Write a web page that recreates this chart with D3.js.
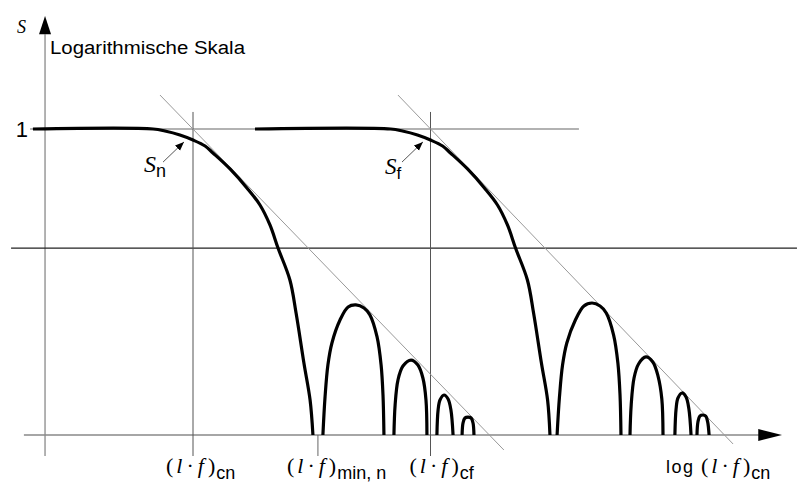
<!DOCTYPE html>
<html>
<head>
<meta charset="utf-8">
<script src="https://cdn.jsdelivr.net/npm/d3@7"></script>
<style>
  body { margin: 0; background: #fff; }
</style>
</head>
<body>
<div id="chart"></div>
<script>
// units: x = decades of log(l·f), 0 at (l·f)cn ; y = decades of log S, 0 at S = 1
var curveN = [[-0.674, 0], [-0.168, 0], [-0.118, -0.02], [-0.055, -0.059], [0, -0.108],
    [0.051, -0.167], [0.084, -0.235], [0.156, -0.392], [0.227, -0.578], [0.282, -0.745],
    [0.324, -0.941], [0.358, -1.167], [0.408, -1.48], [0.434, -1.804], [0.467, -2.294],
    [0.493, -2.657], [0.505, -3]];
var lobesN = [
    [[0.547, -3], [0.556, -2.627], [0.568, -2.314], [0.585, -2.098], [0.619, -1.873], [0.653, -1.745],
     [0.686, -1.725], [0.72, -1.755], [0.745, -1.824], [0.775, -2.039], [0.792, -2.314], [0.8, -2.608], [0.804, -3]],
    [[0.846, -3], [0.851, -2.706], [0.863, -2.461], [0.884, -2.324], [0.918, -2.265], [0.947, -2.314],
     [0.968, -2.441], [0.981, -2.657], [0.985, -3]],
    [[1.027, -3], [1.032, -2.755], [1.04, -2.657], [1.057, -2.608], [1.074, -2.647], [1.086, -2.755], [1.095, -3]],
    [[1.133, -3], [1.137, -2.882], [1.145, -2.833], [1.158, -2.824], [1.171, -2.833], [1.179, -2.882], [1.183, -3]]
];
var curveF = [[0.261, 0], [0.832, 0], [0.882, -0.02], [0.945, -0.059], [1, -0.108],
    [1.051, -0.167], [1.084, -0.235], [1.156, -0.392], [1.227, -0.578], [1.282, -0.745],
    [1.324, -0.941], [1.358, -1.167], [1.408, -1.48], [1.434, -1.804], [1.467, -2.294],
    [1.493, -2.657], [1.503, -3]];
var lobesF = [
    [[1.533, -3], [1.543, -2.627], [1.556, -2.314], [1.574, -2.098], [1.61, -1.873], [1.646, -1.735],
     [1.68, -1.706], [1.714, -1.735], [1.74, -1.804], [1.771, -2.02], [1.789, -2.294], [1.798, -2.608], [1.802, -3]],
    [[1.84, -3], [1.845, -2.706], [1.857, -2.441], [1.876, -2.304], [1.907, -2.235], [1.936, -2.284],
     [1.958, -2.422], [1.974, -2.647], [1.979, -3]],
    [[2.029, -3], [2.034, -2.745], [2.042, -2.637], [2.059, -2.588], [2.076, -2.627], [2.088, -2.745], [2.097, -3]],
    [[2.122, -3], [2.126, -2.872], [2.134, -2.814], [2.147, -2.804], [2.159, -2.814], [2.167, -2.872], [2.173, -3]]
];
var asymptotes = [[[-0.139, 0.333], [1.309, -3.147]], [[0.863, 0.333], [2.274, -3.088]]];
var refX = [0, 1];          // (l·f)cn, (l·f)cf
var minN = 0.526;           // (l·f)min,n
var axisX = -0.623, axisY = -3, midY = -1.167;

var SERIF = "Liberation Serif, DejaVu Serif, serif";
var SANS = "Liberation Sans, Arimo, Arial, Roboto, sans-serif";

var width = 798, height = 484;
var x = d3.scaleLinear().domain([0, 1]).range([193, 430.5]);
var y = d3.scaleLinear().domain([0, -3]).range([129, 435]);

var svg = d3.select("#chart").append("svg")
    .attr("width", width)
    .attr("height", height);

var line = d3.line()
    .x(function(d) { return x(d[0]); })
    .y(function(d) { return y(d[1]); });
var smooth = d3.line()
    .x(function(d) { return x(d[0]); })
    .y(function(d) { return y(d[1]); })
    .curve(d3.curveCatmullRom.alpha(0.5));

function hline(v, u0, u1, color, w) {
    svg.append("path").attr("d", line([[u0, v], [u1, v]]))
        .attr("stroke", color).attr("stroke-width", w).attr("fill", "none");
}
function vline(u, v0, v1, color, w) {
    svg.append("path").attr("d", line([[u, v0], [u, v1]]))
        .attr("stroke", color).attr("stroke-width", w).attr("fill", "none");
}

// axes
vline(axisX, -3.206, 0.93, "#999", 1.5);
hline(axisY, -0.712, 2.4, "#888", 1.5);
svg.append("path")
    .attr("d", "M" + x(axisX) + "," + y(1.108) + "L" + (x(axisX) - 6) + "," + y(0.93) + "L" + (x(axisX) + 6) + "," + y(0.93) + "Z")
    .attr("fill", "#000");
svg.append("path")
    .attr("d", "M" + x(2.48) + "," + y(axisY) + "L" + x(2.38) + "," + (y(axisY) - 6) + "L" + x(2.38) + "," + (y(axisY) + 6) + "Z")
    .attr("fill", "#000");

// reference lines
hline(0, -0.686, 1.625, "#999", 1.3);
hline(midY, -0.766, 2.543, "#222", 1.3);
refX.forEach(function(u) { vline(u, -3.206, 0.167, "#555", 1); });
vline(minN, -3, -3.206, "#666", 1);

asymptotes.forEach(function(a) {
    svg.append("path").attr("d", line(a))
        .attr("stroke", "#999").attr("stroke-width", 1).attr("fill", "none");
});

// curves
[curveN, curveF].concat(lobesN, lobesF).forEach(function(c) {
    svg.append("path").attr("d", smooth(c))
        .attr("stroke", "#000").attr("stroke-width", 3.2)
        .attr("stroke-linejoin", "round").attr("fill", "none");
});

// small pointer arrows
svg.append("defs").append("marker")
    .attr("id", "tip")
    .attr("viewBox", "0 -5 10 10")
    .attr("refX", 10).attr("refY", 0)
    .attr("markerWidth", 9).attr("markerHeight", 9)
    .attr("markerUnits", "userSpaceOnUse")
    .attr("orient", "auto")
    .append("path").attr("d", "M0,-4L10,0L0,4Z").attr("fill", "#000");
[[[-0.126, -0.324], [-0.038, -0.127]], [[0.88, -0.324], [0.968, -0.127]]].forEach(function(a) {
    svg.append("path").attr("d", line(a))
        .attr("stroke", "#555").attr("stroke-width", 1)
        .attr("marker-end", "url(#tip)");
});

// labels
svg.append("text").attr("x", 17).attr("y", 33)
    .attr("font-family", SERIF).attr("font-size", 18).attr("font-style", "italic").text("S");
svg.append("text").attr("x", 50).attr("y", 54)
    .attr("font-family", SANS).attr("font-size", 18)
    .attr("textLength", 195).attr("lengthAdjust", "spacingAndGlyphs")
    .text("Logarithmische Skala");
svg.append("text").attr("x", 28).attr("y", 137)
    .attr("text-anchor", "end").attr("font-family", SANS).attr("font-size", 22).text("1");

function symLabel(px, py, sym, sub, size) {
    var t = svg.append("text").attr("x", px).attr("y", py);
    t.append("tspan").attr("font-family", SERIF).attr("font-style", "italic")
        .attr("font-size", size).text(sym);
    t.append("tspan").attr("font-family", SANS).attr("font-size", size - 6)
        .attr("dy", 5).text(sub);
}
symLabel(144, 172, "S", "n", 24);
symLabel(385, 174, "S", "f", 23);

function lfLabel(px, prefix, sub) {
    var t = svg.append("text").attr("x", px).attr("y", 473)
        .attr("font-family", SERIF).attr("font-size", 22);
    if (prefix) t.append("tspan").attr("font-family", SANS).attr("font-size", 18)
        .attr("letter-spacing", 1.5).text(prefix);
    t.append("tspan").text("(");
    t.append("tspan").attr("dx", 3).attr("font-style", "italic").text("l");
    t.append("tspan").attr("dx", 4).text("\u00b7");
    t.append("tspan").attr("dx", 4).attr("font-style", "italic").text("f");
    t.append("tspan").attr("dx", 4).text(")");
    t.append("tspan").attr("font-family", SANS).attr("font-size", 18)
        .attr("dx", 1).attr("dy", 6).text(sub);
}
lfLabel(x(refX[0]) - 27, null, "cn");
lfLabel(x(minN) - 31, null, "min, n");
lfLabel(x(refX[1]) - 21, null, "cf");
lfLabel(666, "log ", "cn");
</script>
</body>
</html>
